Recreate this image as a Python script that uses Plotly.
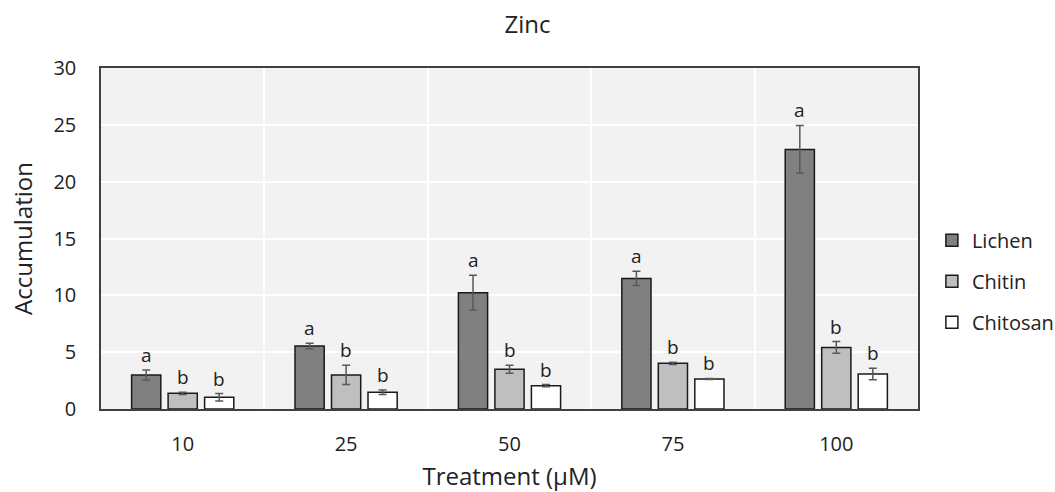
import plotly.graph_objects as go

treatments = ["10", "25", "50", "75", "100"]
series_names = ["Lichen", "Chitin", "Chitosan"]
lichen = [3.0, 5.54, 10.23, 11.49, 22.84]
chitin = [1.38, 3.0, 3.49, 4.02, 5.42]
chitosan = [1.03, 1.47, 2.05, 2.64, 3.08]
lichen_err = [0.44, 0.24, 1.53, 0.62, 2.11]
chitin_err = [0.1, 0.84, 0.35, 0.1, 0.51]
chitosan_err = [0.33, 0.2, 0.1, 0.05, 0.51]
lichen_lbl = ["a", "a", "a", "a", "a"]
chitin_lbl = ["b", "b", "b", "b", "b"]
chitosan_lbl = ["b", "b", "b", "b", "b"]

colors = ["#808080", "#bfbfbf", "#ffffff"]
FONT = "Open Sans"
TXT = "#222222"

xpos = list(range(len(treatments)))
fig = go.Figure()
data = [(lichen, lichen_err, lichen_lbl), (chitin, chitin_err, chitin_lbl), (chitosan, chitosan_err, chitosan_lbl)]
for i, (name, (vals, errs, lbls)) in enumerate(zip(series_names, data)):
    fig.add_trace(go.Bar(
        x=xpos, y=vals, name=name, legendgroup=name,
        marker=dict(color=colors[i], line=dict(color="#1a1a1a", width=1.5)),
        error_y=dict(type="data", array=errs, visible=True, color="#595959", thickness=1.5, width=4),
        offsetgroup=str(i),
    ))

# significance letters
slot = (1 - 0.33) / 3
for i, (vals, errs, lbls) in enumerate(data):
    for j in range(len(treatments)):
        fig.add_annotation(
            x=xpos[j] + (i - 1) * slot, y=vals[j] + errs[j], text=lbls[j],
            showarrow=False, yanchor="bottom", yshift=0,
            font=dict(family=FONT, size=19, color=TXT),
        )

fig.update_layout(
    width=1055, height=492,
    margin=dict(l=101, r=137, t=68, b=83, autoexpand=False),
    paper_bgcolor="white", plot_bgcolor="#f2f2f2",
    barmode="group", bargap=0.33, bargroupgap=0.2,
    title=dict(text="Zinc", x=0.5, xanchor="center", y=0.951, yanchor="middle",
               font=dict(family=FONT, size=24, color=TXT)),
    font=dict(family=FONT, size=20, color=TXT),
    legend=dict(x=1.017, y=0.375, xanchor="left", yanchor="middle",
                font=dict(family=FONT, size=20, color=TXT),
                tracegroupgap=12, traceorder="grouped", bgcolor="rgba(0,0,0,0)",
                borderwidth=0),
    showlegend=True,
)
fig.update_xaxes(
    range=[-0.5, 4.5], tickmode="array", tickvals=xpos, ticktext=treatments,
    showgrid=False, zeroline=False, ticks="outside", ticklen=16, tickcolor="rgba(0,0,0,0)",
    minor=dict(tickvals=[0.5, 1.5, 2.5, 3.5], showgrid=True, gridcolor="white", gridwidth=2, ticks=""),
    showline=True, linecolor="#404040", linewidth=1.5, mirror=True,
    title=dict(text="Treatment (µM)", font=dict(family=FONT, size=24, color=TXT), standoff=14),
    tickfont=dict(family=FONT, size=20, color=TXT),
)
fig.update_yaxes(
    range=[0, 30], dtick=5, showgrid=True, gridcolor="white", gridwidth=2,
    zeroline=False, ticks="outside", ticklen=19, tickcolor="rgba(0,0,0,0)",
    showline=True, linecolor="#404040", linewidth=1.5, mirror=True,
    title=dict(text="Accumulation", font=dict(family=FONT, size=24, color=TXT), standoff=14),
    tickfont=dict(family=FONT, size=20, color=TXT),
)
fig.write_html("out.html")
